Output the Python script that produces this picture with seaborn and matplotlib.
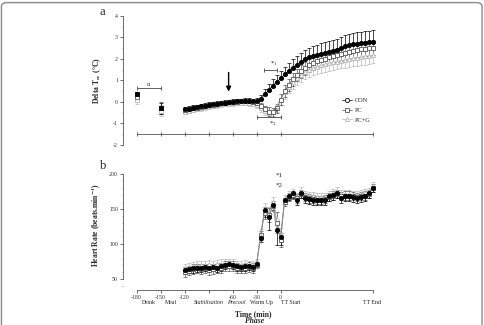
import matplotlib.pyplot as plt
from matplotlib.lines import Line2D
from matplotlib.patches import FancyBboxPatch
from matplotlib.ticker import MultipleLocator
import numpy as np
import pandas as pd
import seaborn as sns

# time points (min) for the main series; TT End is drawn at 115
times = [-120, -115, -110, -105, -100, -95, -90, -85, -80, -75, -70, -65, -60, -55, -50, -45, -40, -35,
         -30, -25, -20, -15, -10, -5, 0,
         5, 10, 15, 20, 25, 30, 35, 40, 45, 50, 55, 60, 65, 70, 75, 80, 85, 90, 95, 100, 105, 110, 115]
groups = ["CON", "PC", "PC+G"]

# panel a : delta rectal temperature
dm_times = [-180, -150]
con_dm = [0.35, -0.3]
pc_dm = [0.25, -0.28]
pcg_dm = [0.1, -0.4]
con_dm_err = [0.1, 0.25]
pc_dm_err = [0.15, 0.3]
pcg_dm_err = [0.2, 0.25]

con_a = [-0.35, -0.32, -0.28, -0.25, -0.21, -0.18, -0.14, -0.11, -0.08, -0.06, -0.03, -0.01, 0.01, 0.03, 0.04, 0.05, 0.05, 0.04,
         0.05, 0.12, 0.35, 0.55, 0.75, 0.93, 1.1,
         1.28, 1.45, 1.6, 1.74, 1.87, 1.98, 2.07, 2.14, 2.2, 2.24, 2.28, 2.32, 2.37, 2.43, 2.5, 2.58, 2.64, 2.68, 2.7, 2.72, 2.74, 2.77, 2.8]
pc_a = [-0.38, -0.34, -0.3, -0.26, -0.22, -0.19, -0.15, -0.12, -0.09, -0.06, -0.04, -0.02, 0.0, 0.02, 0.03, 0.04, 0.03, 0.0,
        -0.05, -0.2, -0.35, -0.45, -0.48, -0.3, 0.1,
        0.5, 0.8, 1.05, 1.25, 1.42, 1.57, 1.7, 1.8, 1.89, 1.96, 2.02, 2.08, 2.13, 2.18, 2.23, 2.28, 2.33, 2.37, 2.41, 2.44, 2.47, 2.5, 2.53]
pcg_a = [-0.45, -0.4, -0.36, -0.32, -0.28, -0.24, -0.2, -0.17, -0.14, -0.11, -0.09, -0.07, -0.05, -0.04, -0.03, -0.03, -0.05, -0.08,
         -0.15, -0.3, -0.42, -0.5, -0.45, -0.2, 0.15,
         0.45, 0.7, 0.92, 1.1, 1.25, 1.38, 1.48, 1.57, 1.64, 1.7, 1.75, 1.8, 1.84, 1.88, 1.92, 1.96, 2.0, 2.03, 2.06, 2.09, 2.12, 2.15, 2.18]
con_a_err = [0.12, 0.12, 0.12, 0.12, 0.12, 0.12, 0.12, 0.12, 0.12, 0.12, 0.12, 0.12, 0.12, 0.12, 0.12, 0.12, 0.12, 0.12,
             0.15, 0.2, 0.25, 0.28, 0.3, 0.3, 0.32,
             0.34, 0.36, 0.38, 0.4, 0.42, 0.44, 0.45, 0.46, 0.47, 0.48, 0.49, 0.5, 0.5, 0.51, 0.52, 0.52, 0.53, 0.53, 0.54, 0.54, 0.55, 0.55, 0.55]
pc_a_err = [0.1, 0.1, 0.1, 0.1, 0.1, 0.1, 0.1, 0.1, 0.1, 0.1, 0.1, 0.1, 0.1, 0.1, 0.1, 0.1, 0.1, 0.1,
            0.12, 0.15, 0.18, 0.2, 0.2, 0.22, 0.25,
            0.28, 0.28, 0.29, 0.29, 0.3, 0.3, 0.3, 0.31, 0.31, 0.31, 0.32, 0.32, 0.32, 0.33, 0.33, 0.33, 0.34, 0.34, 0.34, 0.35, 0.35, 0.35, 0.35]
pcg_a_err = [0.12, 0.12, 0.12, 0.12, 0.12, 0.12, 0.12, 0.12, 0.12, 0.12, 0.12, 0.12, 0.12, 0.12, 0.12, 0.12, 0.12, 0.12,
             0.15, 0.18, 0.2, 0.22, 0.22, 0.25, 0.28,
             0.3, 0.3, 0.31, 0.32, 0.32, 0.33, 0.33, 0.34, 0.34, 0.35, 0.35, 0.35, 0.36, 0.36, 0.36, 0.37, 0.37, 0.37, 0.38, 0.38, 0.38, 0.38, 0.38]

# panel b : heart rate
con_b = [63, 64, 65, 66, 66, 67, 66, 67, 66, 68, 70, 72, 70, 68, 67, 68, 69, 67,
         72, 108, 148, 138, 156, 120, 110,
         163, 168, 172, 162, 173, 166, 164, 163, 162, 162, 163, 168, 170, 172, 166, 168, 168, 167, 166, 167, 168, 172, 180]
pc_b = [60, 62, 64, 65, 64, 65, 63, 64, 65, 66, 68, 69, 68, 66, 65, 66, 67, 66,
        70, 112, 144, 141, 154, 130, 106,
        160, 167, 170, 165, 171, 167, 165, 164, 163, 163, 164, 167, 169, 171, 168, 169, 169, 168, 167, 168, 169, 171, 180]
pcg_b = [66, 67, 68, 69, 70, 70, 71, 70, 71, 72, 72, 73, 72, 70, 70, 71, 70, 70,
         74, 115, 150, 145, 160, 135, 115,
         165, 170, 174, 168, 175, 170, 168, 168, 167, 167, 167, 170, 172, 175, 171, 171, 171, 170, 170, 171, 172, 174, 182]
con_b_err = [6, 6, 6, 6, 6, 6, 6, 6, 6, 6, 6, 6, 6, 6, 6, 6, 6, 6,
             4, 6, 9, 18, 7, 22, 12,
             6, 6, 6, 6, 7, 7, 7, 7, 7, 7, 7, 7, 7, 7, 7, 7, 7, 7, 7, 7, 7, 7, 6]
pc_b_err = [7, 7, 7, 7, 7, 7, 7, 7, 7, 7, 7, 7, 7, 7, 7, 7, 7, 7,
            4, 6, 8, 10, 7, 15, 10,
            6, 6, 6, 6, 6, 6, 6, 6, 6, 6, 6, 6, 6, 6, 6, 6, 6, 6, 6, 6, 6, 6, 6]
pcg_b_err = [6, 6, 6, 6, 6, 6, 6, 6, 6, 6, 6, 6, 6, 6, 6, 6, 6, 6,
             4, 6, 8, 8, 7, 10, 8,
             5, 5, 5, 5, 6, 6, 6, 6, 6, 6, 6, 6, 6, 6, 6, 6, 6, 6, 6, 6, 6, 6, 6]

tick_pos = [-180, -150, -120, -90, -60, -30, 0, 115]
tick_lab = ["-180", "-150", "-120", "", "-60", "-30", "0", ""]
phase_lab = [(-165, "Drink", "normal"), (-137, "Meal", "normal"), (-90, "Stabilisation", "italic"),
             (-56, "Precool", "italic"), (-24, "Warm Up", "normal"), (12, "TT Start", "normal"),
             (114, "TT End", "normal")]

sns.set_theme(style="ticks")
plt.rcParams['font.family'] = ['Liberation Serif', 'DejaVu Serif']
plt.rcParams['axes.unicode_minus'] = False
plt.rcParams['mathtext.fontset'] = 'stix'

style = {
    "CON": dict(marker="o", color="black", mfc="black", ms=3.0),
    "PC": dict(marker="s", color="#555555", mfc="white", ms=3.0),
    "PC+G": dict(marker="^", color="#b8b8b8", mfc="white", ms=3.0),
}

fig = plt.figure(figsize=(4.84, 3.25), dpi=100)
ax1 = fig.add_axes([0.254, 0.554, 0.531, 0.397])
ax2 = fig.add_axes([0.254, 0.108, 0.531, 0.357])

df_a = pd.DataFrame({"time": times * 3, "group": np.repeat(groups, len(times)),
                     "value": con_a + pc_a + pcg_a, "err": con_a_err + pc_a_err + pcg_a_err})
df_b = pd.DataFrame({"time": times * 3, "group": np.repeat(groups, len(times)),
                     "value": con_b + pc_b + pcg_b, "err": con_b_err + pc_b_err + pcg_b_err})

dm = {"CON": (con_dm, con_dm_err), "PC": (pc_dm, pc_dm_err), "PC+G": (pcg_dm, pcg_dm_err)}
dir_a = {"CON": "up", "PC": "both", "PC+G": "down"}
dir_b = {"CON": "down", "PC": "both", "PC+G": "up"}


def yerr_for(err, how):
    err = np.asarray(err, dtype=float)
    zero = np.zeros_like(err)
    if how == "up":
        return [zero, err]
    if how == "down":
        return [err, zero]
    return [err, err]


for g in ["PC+G", "PC", "CON"]:
    s = style[g]
    sub = df_a[df_a.group == g]
    ax1.errorbar(sub.time, sub.value, yerr=yerr_for(sub.err, dir_a[g]), fmt="none",
                 ecolor=s["color"], elinewidth=0.5, capsize=1.3, capthick=0.5, zorder=2)
    sns.lineplot(x=sub.time, y=sub.value, ax=ax1, color=s["color"], marker=s["marker"],
                 markersize=s["ms"], markerfacecolor=s["mfc"], markeredgecolor=s["color"],
                 markeredgewidth=0.6, lw=0.5, zorder=3)
    vals, errs = dm[g]
    ax1.errorbar(dm_times, vals, yerr=yerr_for(errs, "both"), fmt="none",
                 ecolor=s["color"], elinewidth=0.5, capsize=1.3, capthick=0.5, zorder=2)
    ax1.plot(dm_times, vals, ls="none", marker="s", ms=3.0, mfc=s["mfc"], mec=s["color"], mew=0.6, zorder=3)

    sub = df_b[df_b.group == g]
    ax2.errorbar(sub.time, sub.value, yerr=yerr_for(sub.err, dir_b[g]), fmt="none",
                 ecolor=s["color"], elinewidth=0.5, capsize=1.3, capthick=0.5, zorder=2)
    sns.lineplot(x=sub.time, y=sub.value, ax=ax2, color="#888888", marker=s["marker"],
                 markersize=s["ms"], markerfacecolor=s["mfc"], markeredgecolor=s["color"],
                 markeredgewidth=0.6, lw=0.5, zorder=3)

for ax in (ax1, ax2):
    ax.set_xlim(-197, 124)
    ax.set_xlabel("")
    ax.set_ylabel("")
    ax.spines["top"].set_visible(False)
    ax.spines["right"].set_visible(False)
    for sp in ("left", "bottom"):
        ax.spines[sp].set_linewidth(0.6)
        ax.spines[sp].set_color("#555555")
    ax.spines["bottom"].set_bounds(-180, 115)
    ax.set_xticks(tick_pos)
    ax.tick_params(axis="both", labelsize=4.2, length=2, width=0.5, pad=1.5, colors="#333333")
    ax.tick_params(which="minor", length=1, width=0.4, colors="#555555")

# panel a axes
ax1.set_ylim(-2, 4)
ax1.spines["bottom"].set_position(("data", -1.5))
ax1.set_yticks([-2, -1, 0, 1, 2, 3, 4])
ax1.yaxis.set_minor_locator(MultipleLocator(0.5))
ax1.set_xticklabels([])
ax1.tick_params(axis="x", direction="inout", length=3)
ax1.set_ylabel("Delta T$_{\\mathbf{re}}$ (°C)", fontsize=5.5, fontweight="bold", labelpad=2)
ax1.yaxis.set_label_coords(-0.078, 0.5)

ax1.annotate("", xy=(-65, 0.35), xytext=(-65, 1.5),
             arrowprops=dict(arrowstyle="-|>", color="black", lw=1.0, mutation_scale=7))
ax1.errorbar(-165, 0.65, xerr=15, fmt="none", ecolor="#444444", elinewidth=0.6, capsize=1.5, capthick=0.6)
ax1.text(-165, 0.7, "α", fontsize=4.5, ha="center", va="bottom")
ax1.errorbar(-13, 1.5, xerr=8, fmt="none", ecolor="#444444", elinewidth=0.6, capsize=1.5, capthick=0.6)
ax1.text(-9, 1.58, "*$_1$", fontsize=5, ha="center", va="bottom")
ax1.errorbar(-14.5, -0.7, xerr=14.5, fmt="none", ecolor="#444444", elinewidth=0.6, capsize=1.5, capthick=0.6)
ax1.text(-10, -0.78, "*$_2$", fontsize=5, ha="center", va="top")
ax1.text(-6, -0.4, "Ψ", fontsize=4.5, ha="center", va="center", color="#444444")

handles = [Line2D([], [], color=style[g]["color"], lw=0.5, marker=style[g]["marker"], ms=3,
                  mfc="white", mec=style[g]["color"], mew=0.6) for g in groups]
ax1.legend(handles, groups, loc="upper left", bbox_to_anchor=(0.84, 0.39), frameon=False,
           fontsize=4.5, handlelength=1.6, handletextpad=0.5, labelspacing=0.7, borderpad=0)

# panel b axes
ax2.set_ylim(34.3, 200)
ax2.spines["left"].set_bounds(50, 200)
ax2.set_yticks([50, 100, 150, 200])
ax2.yaxis.set_minor_locator(MultipleLocator(10))
ax2.set_xticklabels(tick_lab)
ax2.set_ylabel("Heart Rate (beats.min$^{\\mathbf{-1}}$)", fontsize=5.5, fontweight="bold")
ax2.yaxis.set_label_coords(-0.078, 0.56)
ax2.text(-2.5, 198, "*1", fontsize=5, ha="center", va="center")
ax2.text(-2.5, 184, "*2", fontsize=5, ha="center", va="center")

trans = ax2.get_xaxis_transform()
for x, lab, st in phase_lab:
    ax2.text(x, -0.11, lab, transform=trans, fontsize=4.2, ha="center", va="center", style=st, color="#222222")
ax2.text(-34, -0.21, "Time (min)", transform=trans, fontsize=5.5, fontweight="bold", ha="center", va="center")
ax2.text(-32, -0.27, "Phase", transform=trans, fontsize=5.5, fontweight="bold", style="italic",
         ha="center", va="center")

fig.text(102 / 484, 1 - 12 / 325, "a", fontsize=9, ha="center", va="center")
fig.text(103 / 484, 1 - 166 / 325, "b", fontsize=9, ha="center", va="center")

frame = FancyBboxPatch((0.003, -0.05), 0.993, 1.042, boxstyle="round,pad=0,rounding_size=0.012",
                       transform=fig.transFigure, fill=False, ec="#8a8a8a", lw=1.0)
fig.patches.append(frame)

fig.savefig("out.png", dpi=100)
